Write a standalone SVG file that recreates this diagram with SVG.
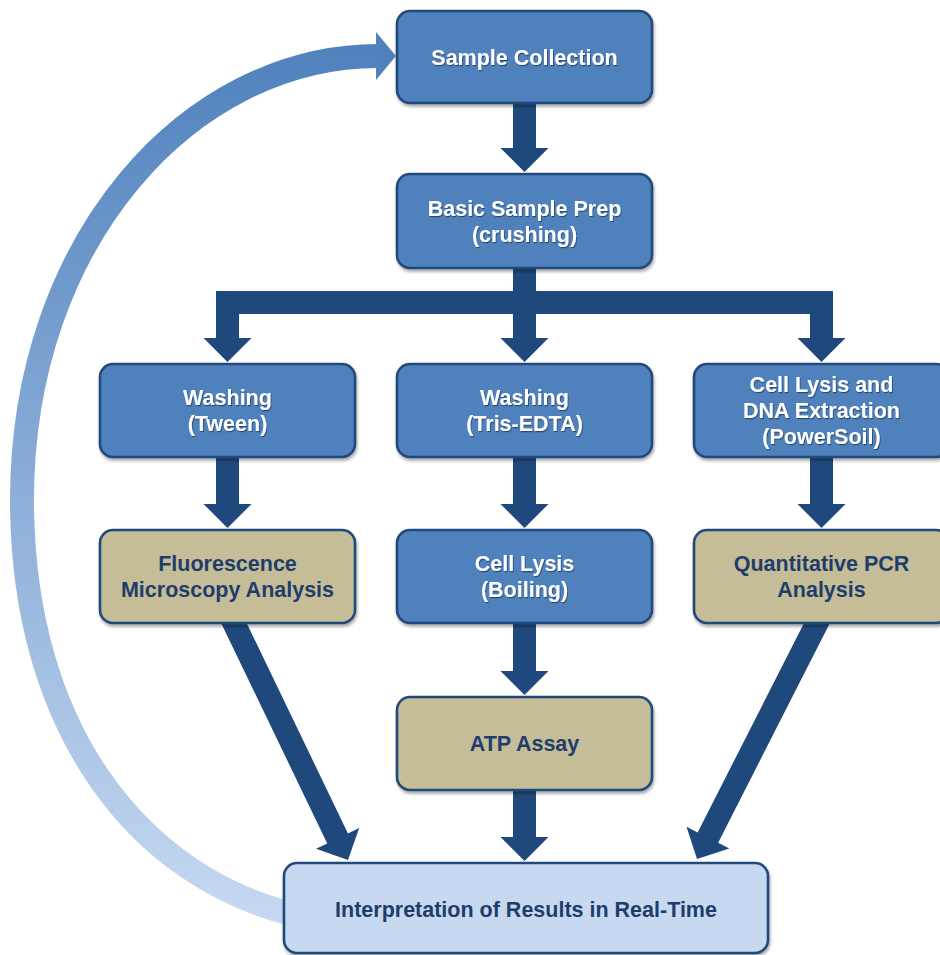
<svg xmlns="http://www.w3.org/2000/svg" width="940" height="955" viewBox="0 0 940 955">
<defs>
<linearGradient id="arcGrad" gradientUnits="userSpaceOnUse" x1="0" y1="40" x2="0" y2="925">
<stop offset="0" stop-color="#4F81BD"/>
<stop offset="1" stop-color="#C6D9F1"/>
</linearGradient>
<filter id="boxShadow" x="-10%" y="-10%" width="130%" height="140%">
<feDropShadow dx="1" dy="2.5" stdDeviation="1.8" flood-color="#000" flood-opacity="0.35"/>
</filter>
<filter id="txtShadow" x="-5%" y="-20%" width="110%" height="150%">
<feDropShadow dx="0.8" dy="1.2" stdDeviation="0.7" flood-color="#000" flood-opacity="0.45"/>
</filter>
</defs>
<style>
.box{stroke:#23497C;stroke-width:2.6;filter:url(#boxShadow)}
.blue{fill:#4F81BD}
.tan{fill:#C4BD97}
.light{fill:#C6D9F0}
.t{font-family:"Liberation Sans",Arial,Helvetica,sans-serif;font-weight:bold;font-size:21.5px;text-anchor:middle}
.tw{fill:#FFFFFF;filter:url(#txtShadow)}
.td{fill:#1F3D6B}
.conn{fill:#1F497D}
</style>
<rect width="940" height="955" fill="#FFFFFF"/>

<g id="feedback">
<path d="M 378 56 C 190 56 22 240 22 500 C 22 730 140 880 300 916" fill="none" stroke="url(#arcGrad)" stroke-width="24"/>
<polygon points="376,32 396,56 376,80" fill="#4F81BD"/>
</g>

<g id="connectors" class="conn">
<polygon points="513,100 536,100 536,148 548.5,148 524.5,172 500.5,148 513,148"/>
<polygon points="513,265 513,291 216,291 216,338 203.5,338 227.5,362 251.5,338 239,338 239,314 513,314 513,338 500.5,338 524.5,362 548.5,338 536,338 536,314 810,314 810,338 797.5,338 821.5,362 845.5,338 833,338 833,291 536,291 536,265"/>
<polygon points="216,455 239,455 239,504 251.5,504 227.5,528 203.5,504 216,504"/>
<polygon points="513,455 536,455 536,504 548.5,504 524.5,528 500.5,504 513,504"/>
<polygon points="810,455 833,455 833,504 845.5,504 821.5,528 797.5,504 810,504"/>
<polygon points="513,620 536,620 536,671 548.5,671 524.5,695 500.5,671 513,671"/>
<polygon points="513,787 536,787 536,837 548.5,837 524.5,861 500.5,837 513,837"/>
<polygon points="237.96,605 347.96,833.4 359.2,828 348,860 316,848.8 327.24,843.4 217.24,615"/>
<polygon points="833.85,615.2 718.15,842.8 729.3,848.5 697,859 686.5,826.7 697.65,832.4 813.35,604.8"/>
</g>

<g id="sample-collection">
<rect class="box blue" x="397" y="11" width="255" height="92" rx="13"/>
<text class="t tw" x="524.5" y="65">Sample Collection</text>
</g>
<g id="basic-sample-prep">
<rect class="box blue" x="397" y="174" width="255" height="94" rx="13"/>
<text class="t tw" x="524.5" y="216">Basic Sample Prep</text>
<text class="t tw" x="524.5" y="242">(crushing)</text>
</g>
<g id="washing-tween">
<rect class="box blue" x="100" y="364" width="255" height="93" rx="13"/>
<text class="t tw" x="227.5" y="405">Washing</text>
<text class="t tw" x="227.5" y="431">(Tween)</text>
</g>
<g id="washing-tris">
<rect class="box blue" x="397" y="364" width="255" height="93" rx="13"/>
<text class="t tw" x="524.5" y="405">Washing</text>
<text class="t tw" x="524.5" y="431">(Tris-EDTA)</text>
</g>
<g id="cell-lysis-dna">
<rect class="box blue" x="694" y="364" width="255" height="93" rx="13"/>
<text class="t tw" x="821.5" y="392">Cell Lysis and</text>
<text class="t tw" x="821.5" y="418">DNA Extraction</text>
<text class="t tw" x="821.5" y="444">(PowerSoil)</text>
</g>
<g id="fluorescence">
<rect class="box tan" x="100" y="530" width="255" height="93" rx="13"/>
<text class="t td" x="227.5" y="571">Fluorescence</text>
<text class="t td" x="227.5" y="597">Microscopy Analysis</text>
</g>
<g id="cell-lysis-boiling">
<rect class="box blue" x="397" y="530" width="255" height="93" rx="13"/>
<text class="t tw" x="524.5" y="571">Cell Lysis</text>
<text class="t tw" x="524.5" y="597">(Boiling)</text>
</g>
<g id="qpcr">
<rect class="box tan" x="694" y="530" width="255" height="93" rx="13"/>
<text class="t td" x="821.5" y="571">Quantitative PCR</text>
<text class="t td" x="821.5" y="597">Analysis</text>
</g>
<g id="atp-assay">
<rect class="box tan" x="397" y="697" width="255" height="93" rx="13"/>
<text class="t td" x="524.5" y="751">ATP Assay</text>
</g>
<g id="interpretation">
<rect class="box light" x="284" y="863" width="484" height="90" rx="13"/>
<text class="t td" x="526" y="917">Interpretation of Results in Real-Time</text>
</g>
</svg>
